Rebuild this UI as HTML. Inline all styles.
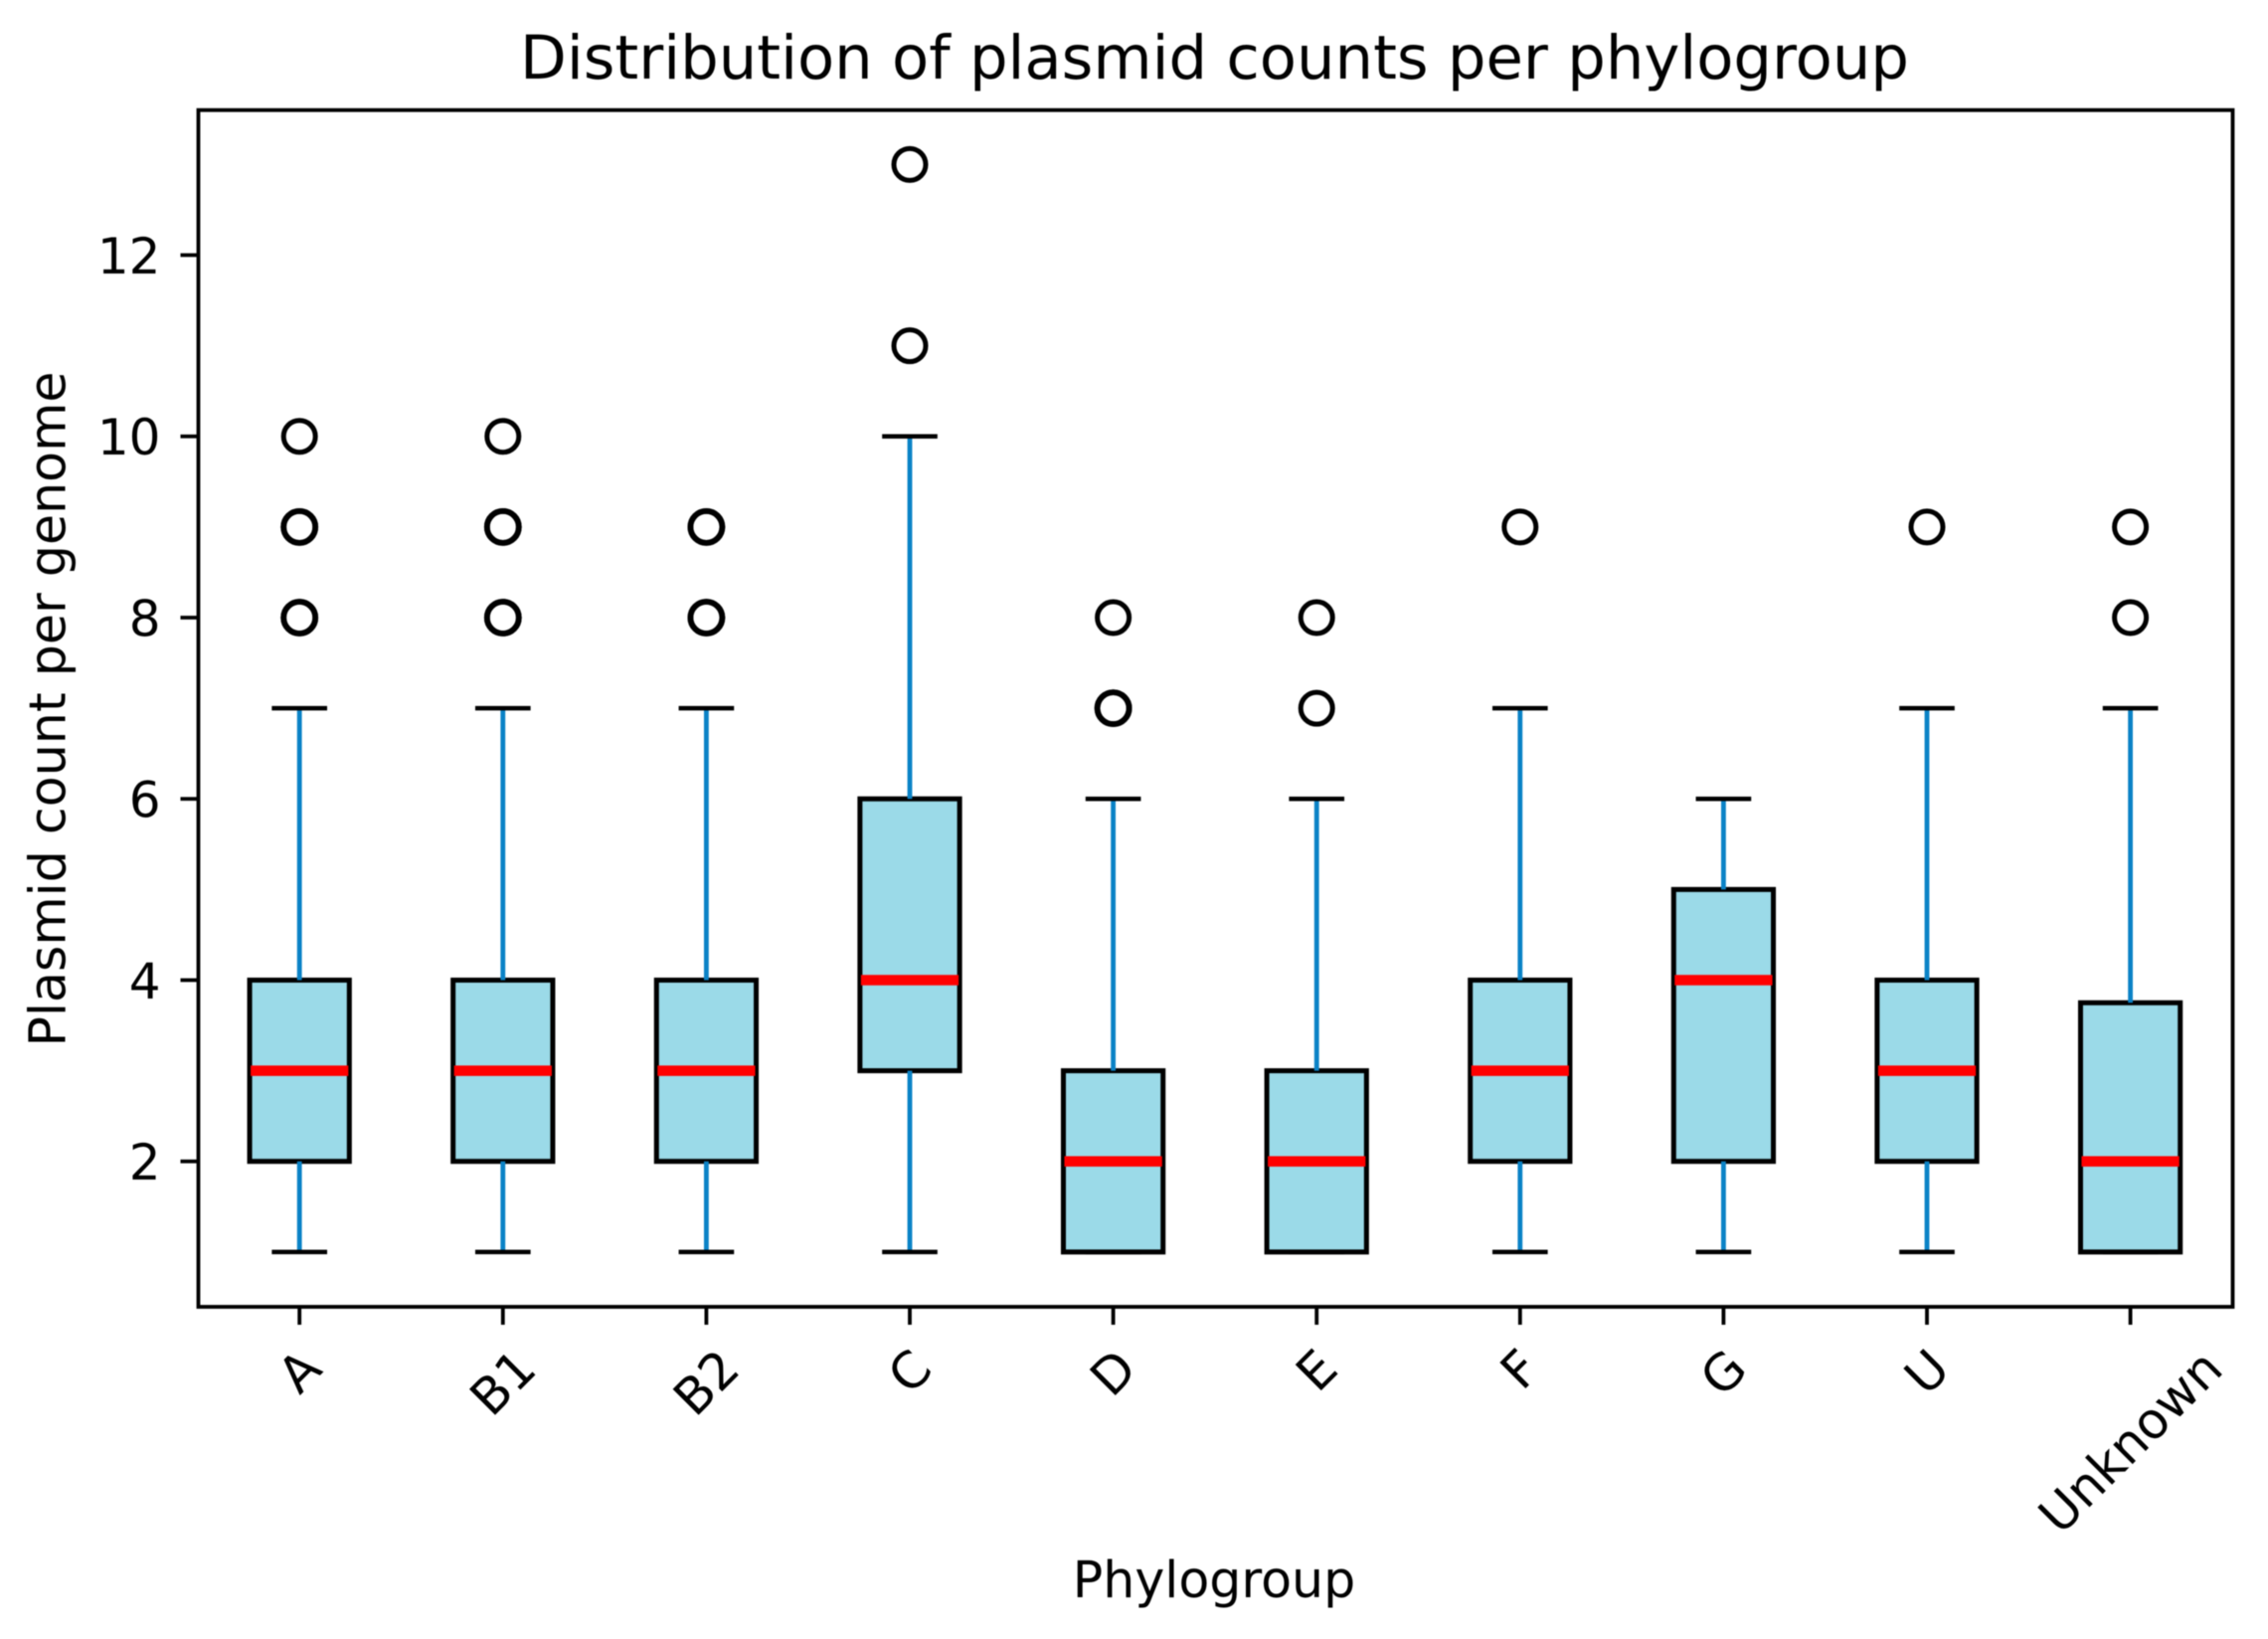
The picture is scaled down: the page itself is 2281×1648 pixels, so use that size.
<!DOCTYPE html>
<html lang="en">
<head>
<meta charset="utf-8">
<title>Distribution of plasmid counts per phylogroup</title>
<style>
html,body{margin:0;padding:0;background:#fff;width:2281px;height:1648px;overflow:hidden}
svg{display:block;filter:blur(0.6px)}
text{font-family:"DejaVu Sans","Liberation Sans",sans-serif;fill:#000}
</style>
</head>
<body>
<svg id="chart" xmlns="http://www.w3.org/2000/svg" width="2281" height="1648" viewBox="0 0 2281 1648">
<rect x="0" y="0" width="2281" height="1648" fill="#fff"/>
<g id="ticks"></g>
<g id="marks"></g>
<rect x="199.5" y="110.7" width="2046" height="1203.3" fill="none" stroke="#000" stroke-width="3.8"/>
<text x="1225.5" y="79" font-size="60.8" text-anchor="middle" transform="translate(-4 0)">Distribution of plasmid counts per phylogroup</text>
<text x="1226" y="1606" font-size="50.6" text-anchor="middle" transform="translate(-5 0)">Phylogroup</text>
<text transform="translate(65.5 713) rotate(-90)" font-size="50.6" text-anchor="middle">Plasmid count per genome</text>
</svg>
<script>
const categories = ["A", "B1", "B2", "C", "D", "E", "F", "G", "U", "Unknown"];
const whiskerLow = [1, 1, 1, 1, 1, 1, 1, 1, 1, 1];
const q1 = [2, 2, 2, 3, 1, 1, 2, 2, 2, 1];
const medians = [3, 3, 3, 4, 2, 2, 3, 4, 3, 2];
const q3 = [4, 4, 4, 6, 3, 3, 4, 5, 4, 3.75];
const whiskerHigh = [7, 7, 7, 10, 6, 6, 7, 6, 7, 7];
const fliers = [
  [8, 8, 9, 9, 10],
  [8, 8, 9, 9, 10],
  [8, 8, 9, 9],
  [11, 13],
  [7, 7, 8],
  [7, 8],
  [9],
  [],
  [9],
  [8, 9]
];
const yTickValues = [2, 4, 6, 8, 10, 12];

const SVGNS = "http://www.w3.org/2000/svg";
const AX = { left: 199.5, right: 2245.5, top: 110.7, bottom: 1314 };
const XLIM = [0.5, categories.length + 0.5];
const YLIM = [0.395, 13.6];
function xScale(pos) {
  return AX.left + (pos - XLIM[0]) / (XLIM[1] - XLIM[0]) * (AX.right - AX.left);
}
function yScale(v) {
  return AX.bottom - (v - YLIM[0]) / (YLIM[1] - YLIM[0]) * (AX.bottom - AX.top);
}
function make(tag, attrs, parent) {
  const el = document.createElementNS(SVGNS, tag);
  for (const k in attrs) el.setAttribute(k, attrs[k]);
  parent.appendChild(el);
  return el;
}
const unit = xScale(2) - xScale(1);
const boxW = unit * 0.49;
const capW = unit * 0.272;
const tickLayer = document.getElementById("ticks");
const markLayer = document.getElementById("marks");

yTickValues.forEach(function (v) {
  const y = yScale(v);
  const t = make("line", { x1: AX.left - 18, x2: AX.left, y1: y, y2: y, stroke: "#000", "stroke-width": 3.8 }, tickLayer);
  
  
  const l = make("text", { x: AX.left - 38, y: y + 18.5, "font-size": 50, "text-anchor": "end" }, tickLayer);
  
  
  l.textContent = String(v);
});

categories.forEach(function (name, i) {
  const cx = xScale(i + 1) - 0.6;
  const g = make("g", {}, markLayer);
  
  

  const box = make("rect", {
    x: cx - boxW / 2, y: yScale(q3[i]), width: boxW, height: yScale(q1[i]) - yScale(q3[i]),
    fill: "#9bdae8", stroke: "#000", "stroke-width": 5
  }, g);
  
  

  const wLow = make("line", { x1: cx, x2: cx, y1: yScale(q1[i]), y2: yScale(whiskerLow[i]), stroke: "#0a82c6", "stroke-width": 4.8 }, g);
  
  

  const wHigh = make("line", { x1: cx, x2: cx, y1: yScale(q3[i]), y2: yScale(whiskerHigh[i]), stroke: "#0a82c6", "stroke-width": 4.8 }, g);
  
  

  const capLow = make("line", { x1: cx - capW / 2, x2: cx + capW / 2, y1: yScale(whiskerLow[i]), y2: yScale(whiskerLow[i]), stroke: "#000", "stroke-width": 4.6 }, g);
  
  

  const capHigh = make("line", { x1: cx - capW / 2, x2: cx + capW / 2, y1: yScale(whiskerHigh[i]), y2: yScale(whiskerHigh[i]), stroke: "#000", "stroke-width": 4.6 }, g);
  
  

  const med = make("line", { x1: cx - boxW / 2 + 1, x2: cx + boxW / 2 - 1, y1: yScale(medians[i]), y2: yScale(medians[i]), stroke: "#ff0000", "stroke-width": 10.5 }, g);
  
  

  fliers[i].forEach(function (v) {
    const repeats = fliers[i].filter(function (u) { return u === v; }).length;
    const sw = repeats > 1 ? 5.8 : 5;
    const c = make("circle", { cx: cx, cy: yScale(v), r: 16, fill: "none", stroke: "#000", "stroke-width": sw }, g);
    
    
  });

  const t = make("line", { x1: cx, x2: cx, y1: AX.bottom, y2: AX.bottom + 18, stroke: "#000", "stroke-width": 3.8 }, tickLayer);
  
  

  const l = make("text", { "font-size": 50.5, "text-anchor": "middle", "dominant-baseline": "central" }, tickLayer);
  
  
  l.textContent = name;
  const w = l.getComputedTextLength();
  const h = 47 * 0.76;
  const rotated = (w + h) * Math.SQRT1_2;
  const cy = AX.bottom + 40 + rotated / 2;
  l.setAttribute("x", cx);
  l.setAttribute("y", cy);
  l.setAttribute("transform", "rotate(-45 " + cx + " " + cy + ")");
});
</script>
</body>
</html>
